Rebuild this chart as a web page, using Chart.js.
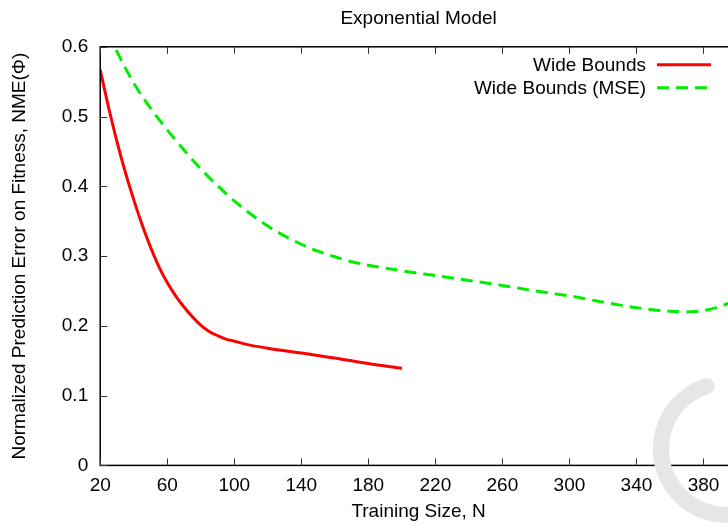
<!DOCTYPE html>
<html>
<head>
<meta charset="utf-8">
<script src="https://cdn.jsdelivr.net/npm/chart.js@4.4.1/dist/chart.umd.min.js"></script>
<style>
    html, body { margin: 0; padding: 0; background: #fff; overflow: hidden; }
    .chart-box { position: relative; width: 740px; height: 527px; }
</style>
</head>
<body>
<div class="chart-box">
    <canvas id="chartExpModel" width="740" height="527"></canvas>
</div>
<script>
// 데이터 : Wide Bounds
const wideN   = [20, 25, 30, 35, 40, 45, 50, 55, 60, 65, 70, 75, 80, 85, 90, 95, 100, 110, 120, 140, 160, 180, 200];
const wideErr = [0.567, 0.513, 0.464, 0.42, 0.381, 0.345, 0.313, 0.285, 0.262, 0.243, 0.227, 0.213, 0.201, 0.192, 0.186, 0.181, 0.178, 0.172, 0.168, 0.161, 0.154, 0.146, 0.139];

// 데이터 : Wide Bounds (MSE)
const mseN   = [20, 25, 30, 40, 50, 60, 70, 80, 90, 100, 110, 120, 130, 140, 150, 160, 170, 180, 200, 220, 240, 260, 280, 300, 320, 340, 360, 370, 380, 390, 400];
const mseErr = [0.645, 0.618, 0.593, 0.548, 0.512, 0.481, 0.452, 0.425, 0.401, 0.379, 0.36, 0.343, 0.329, 0.317, 0.307, 0.299, 0.292, 0.287, 0.279, 0.272, 0.265, 0.258, 0.25, 0.243, 0.234, 0.226, 0.221, 0.22, 0.222, 0.228, 0.237];

// 눈금
const xTicks = [20, 60, 100, 140, 180, 220, 260, 300, 340, 380];
const yTicks = [0, 0.1, 0.2, 0.3, 0.4, 0.5, 0.6];

const FONT = "'Liberation Sans', Arial, sans-serif";
const FS = 19;

function toPoints(xs, ys) {
    return xs.map((x, i) => ({ x: x, y: ys[i] }));
}

// gnuplot 스타일 테두리 + 안쪽 눈금
const frameTicks = {
    id: 'frameTicks',
    afterDatasetsDraw(chart) {
        const { ctx, chartArea: a, scales } = chart;
        const len = 7;
        ctx.save();
        ctx.strokeStyle = '#000';
        ctx.lineWidth = 1.5;
        ctx.strokeRect(a.left, a.top, a.right - a.left, a.bottom - a.top);
        ctx.lineWidth = 1;
        ctx.strokeStyle = '#333';
        ctx.beginPath();
        scales.x.ticks.forEach(t => {
            const px = Math.round(scales.x.getPixelForValue(t.value)) + 0.5;
            ctx.moveTo(px, a.bottom); ctx.lineTo(px, a.bottom - len);
            ctx.moveTo(px, a.top); ctx.lineTo(px, a.top + len);
        });
        scales.y.ticks.forEach(t => {
            const py = Math.round(scales.y.getPixelForValue(t.value)) + 0.5;
            ctx.moveTo(a.left, py); ctx.lineTo(a.left + len, py);
            ctx.moveTo(a.right, py); ctx.lineTo(a.right - len, py);
        });
        ctx.stroke();
        ctx.restore();
    }
};

// 범례 : 글자 왼쪽, 선 오른쪽
const rightLegend = {
    id: 'rightLegend',
    afterDatasetsDraw(chart) {
        const { ctx, chartArea: a } = chart;
        ctx.save();
        ctx.font = FS + 'px ' + FONT;
        ctx.textAlign = 'right';
        ctx.textBaseline = 'middle';
        chart.data.datasets.forEach((ds, i) => {
            const y = a.top + 18 + i * 23;
            ctx.fillStyle = '#000';
            ctx.fillText(ds.label, a.right - 91, y + 1);
            ctx.strokeStyle = ds.borderColor;
            ctx.lineWidth = ds.borderWidth;
            ctx.setLineDash(ds.borderDash || []);
            ctx.beginPath();
            ctx.moveTo(a.right - 80, y);
            ctx.lineTo(a.right - 26, y);
            ctx.stroke();
        });
        ctx.restore();
    }
};

// 화면 우측 하단 회색 로딩 원호
const spinnerArc = {
    id: 'spinnerArc',
    afterDraw(chart) {
        const ctx = chart.ctx;
        ctx.save();
        ctx.strokeStyle = '#e6e6e6';
        ctx.lineWidth = 16;
        ctx.lineCap = 'round';
        ctx.beginPath();
        ctx.arc(727, 449, 66, Math.PI * 0.3, Math.PI * 1.4);
        ctx.stroke();
        ctx.restore();
    }
};

function getChart(id, type, data, options, plugins) {
    const ctx = document.getElementById(id);
    new Chart(ctx, { type: type, data: data, options: options, plugins: plugins });
}

function showChart() {
    const data = {
        datasets: [
            {
                label: 'Wide Bounds',
                data: toPoints(wideN, wideErr),
                borderColor: '#ff0000',
                borderWidth: 3,
                pointRadius: 0,
                cubicInterpolationMode: 'monotone'
            }, {
                label: 'Wide Bounds (MSE)',
                data: toPoints(mseN, mseErr),
                borderColor: '#00ee00',
                borderWidth: 3,
                borderDash: [12, 7],
                pointRadius: 0,
                cubicInterpolationMode: 'monotone'
            }
        ]
    };
    const options = {
        responsive: false,
        animation: false,
        layout: { padding: { top: 4, right: 3, left: 8, bottom: 4 } },
        plugins: {
            legend: { display: false },
            tooltip: { enabled: false },
            title: {
                display: true,
                text: 'Exponential Model',
                fullSize: false,
                color: '#000',
                font: { family: FONT, size: FS, weight: 'normal' },
                padding: { top: 3, bottom: 17 }
            }
        },
        scales: {
            x: {
                type: 'linear',
                min: 20,
                max: 400,
                afterBuildTicks: s => { s.ticks = xTicks.map(v => ({ value: v })); },
                grid: { display: false, drawTicks: false },
                border: { display: false },
                ticks: { color: '#000', font: { family: FONT, size: FS }, padding: 9, maxRotation: 0, autoSkip: false },
                title: {
                    display: true,
                    text: 'Training Size, N',
                    color: '#000',
                    font: { family: FONT, size: FS },
                    padding: { top: -6, bottom: 0 }
                }
            },
            y: {
                min: 0,
                max: 0.6,
                afterBuildTicks: s => { s.ticks = yTicks.map(v => ({ value: v })); },
                grid: { display: false, drawTicks: false },
                border: { display: false },
                ticks: { color: '#000', font: { family: FONT, size: FS }, padding: 12, autoSkip: false },
                title: {
                    display: true,
                    text: 'Normalized Prediction Error on Fitness, NME(\u03A6)',
                    color: '#000',
                    font: { family: FONT, size: FS },
                    padding: { top: 0, bottom: 19 }
                }
            }
        }
    };
    getChart('chartExpModel', 'line', data, options, [frameTicks, rightLegend, spinnerArc]);
}

window.addEventListener('DOMContentLoaded', function() {
    showChart();
});
</script>
</body>
</html>
